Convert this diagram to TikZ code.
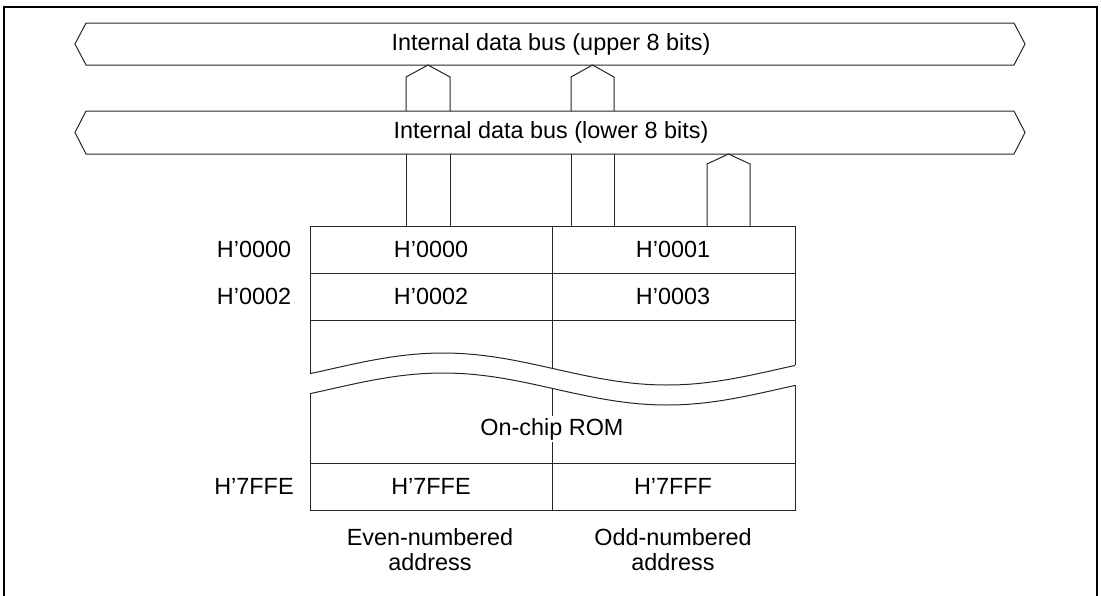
\documentclass[tikz,border=0pt]{standalone}
\usepackage{fontspec}
\setmainfont{Liberation Sans}
\begin{document}
\begin{tikzpicture}[x=1pt,y=-1pt,
  declare function={wv(\x)=389-16*cos(0.8035714*(\x-443));},
  ln/.style={line width=1pt,draw=black!85,line join=miter},
  lbl/.style={font=\fontsize{23.4}{25.5}\selectfont,inner sep=1pt,align=center},
  cell/.style={lbl}]
\useasboundingbox (0,0) rectangle (1101,595);
% frame
\draw[line width=2pt] (4,600) -- (4,6.5) -- (1097,6.5) -- (1097,600);
% buses
\draw[ln] (75,44) -- (86,23) -- (1014,23) -- (1025,44) -- (1014,65) -- (86,65) -- cycle;
\draw[ln] (75,132.5) -- (86,111) -- (1014,111) -- (1025,132.5) -- (1014,154) -- (86,154) -- cycle;
\node[lbl] (ubus) at (551,44) {Internal data bus (upper 8 bits)};
\node[lbl] (lbus) at (551,132.5) {Internal data bus (lower 8 bits)};
% arrows to upper bus
\draw[ln] (406,111) -- (406,77) -- (428,65) -- (450,77) -- (450,111);
\draw[ln] (571,111) -- (571,77) -- (592.5,65) -- (614,77) -- (614,111);
\draw[ln] (406,154) -- (406,226);
\draw[ln] (450,154) -- (450,226);
\draw[ln] (571,154) -- (571,226);
\draw[ln] (614,154) -- (614,226);
% arrow to lower bus
\draw[ln] (707,226) -- (707,164) -- (728.5,154) -- (750,164) -- (750,226);
% memory upper part
\draw[ln] (310,{wv(310)-20}) -- (310,226) -- (795,226) -- (795,{wv(795)-20});
\draw[ln] plot[domain=310:795,samples=80] (\x,{wv(\x)-20});
\draw[ln] (310,273) -- (795,273);
\draw[ln] (310,320) -- (795,320);
\draw[ln] (552,226) -- (552,{wv(552)-20});
% memory lower part
\draw[ln] plot[domain=310:795,samples=80] (\x,{wv(\x)});
\draw[ln] (310,{wv(310)}) -- (310,510) -- (795,510) -- (795,{wv(795)});
\draw[ln] (310,463) -- (795,463);
\draw[ln] (552,{wv(552)}) -- (552,510);
% cell texts
\node[cell] (c0) at (431,249.5) {H’0000};
\node[cell] (c1) at (673,249.5) {H’0001};
\node[cell] (c2) at (431,296.5) {H’0002};
\node[cell] (c3) at (673,296.5) {H’0003};
\node[cell] (ce) at (431,486.5) {H’7FFE};
\node[cell] (cf) at (673,486.5) {H’7FFF};
\node[cell,fill=white,inner sep=2pt] (rom) at (552,429) {On-chip ROM};
% address labels
\node[lbl] (a0) at (254,249) {H’0000};
\node[lbl] (a2) at (254,296.5) {H’0002};
\node[lbl] (ae) at (254,486.5) {H’7FFE};
% bottom labels
\node[lbl] (even) at (430,549.5) {Even-numbered\\address};
\node[lbl] (odd) at (673,549.5) {Odd-numbered\\address};
\end{tikzpicture}
\end{document}
